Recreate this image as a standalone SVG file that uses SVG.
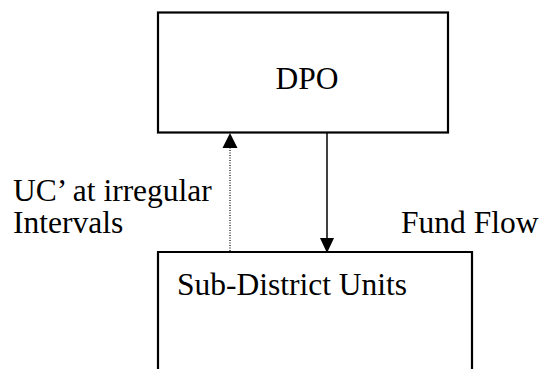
<svg xmlns="http://www.w3.org/2000/svg" width="541" height="369" viewBox="0 0 541 369">
  <style>
    .box { fill: #fff; stroke: #000; stroke-width: 2.2; }
    .lbl { font-family: "Liberation Serif", "Times New Roman", serif; font-size: 31.5px; fill: #000; }
    .solid { stroke: #000; stroke-width: 1.5; fill: none; }
    .dotted { stroke: #000; stroke-width: 1.2; stroke-dasharray: 1 1.5; fill: none; }
    .head { fill: #000; }
  </style>
  <rect width="541" height="369" fill="#fff"/>

  <g id="dpo">
    <rect class="box" x="158" y="12.5" width="290" height="120"/>
    <text class="lbl" x="307" y="89" text-anchor="middle">DPO</text>
  </g>

  <g id="sub-district-units">
    <path class="box" d="M158,372 V252 H472 V372"/>
    <text class="lbl" x="177" y="295">Sub-District Units</text>
  </g>

  <g id="connectors">
    <!-- utilisation certificates: dotted, upward -->
    <line class="dotted" x1="230" y1="251" x2="230" y2="147"/>
    <polygon class="head" points="230,133 222.5,148 237.5,148"/>
    <!-- fund flow: solid, downward -->
    <line class="solid" x1="327" y1="133" x2="327" y2="239"/>
    <polygon class="head" points="327,253 320,238 334,238"/>
  </g>

  <g id="labels">
    <text class="lbl" x="13" y="201">UC’ at irregular</text>
    <text class="lbl" x="13" y="233">Intervals</text>
    <text class="lbl" x="401" y="233">Fund Flow</text>
  </g>
</svg>
